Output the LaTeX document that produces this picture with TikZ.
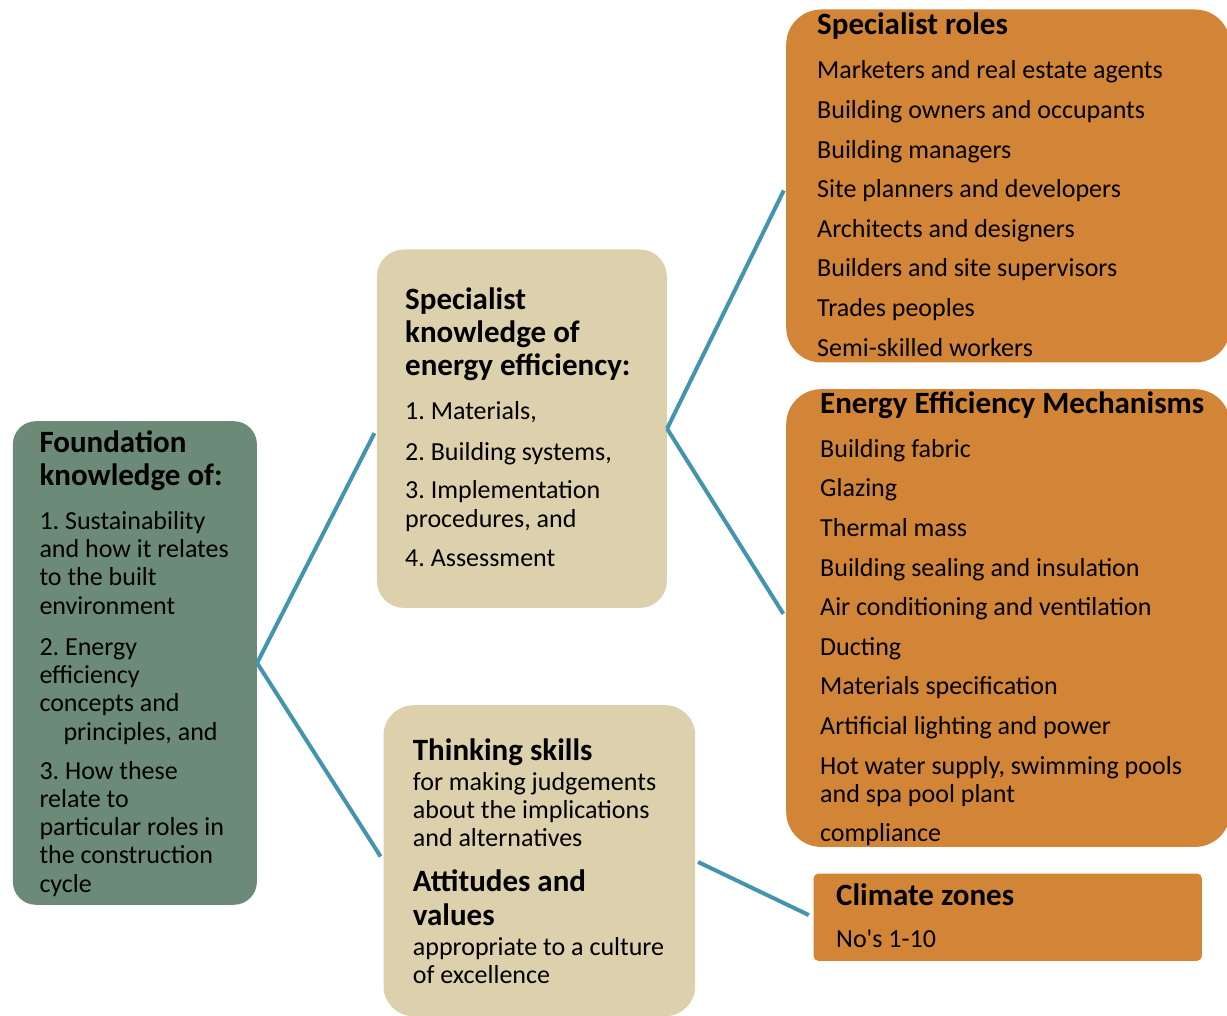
\documentclass[tikz,border=0pt]{standalone}
\usepackage{fontspec}
\setmainfont{Carlito}
\definecolor{fgreen}{HTML}{6B8A78}
\definecolor{ftan}{HTML}{DDD0AC}
\definecolor{forange}{HTML}{D38537}
\definecolor{fteal}{HTML}{4395AF}
\frenchspacing
\begin{document}
\begin{tikzpicture}[x=1pt,y=-1pt,
  panel/.style={inner sep=0pt, anchor=north west, draw=none},
  txt/.style={anchor=base west, inner sep=0pt, font=\fontsize{26}{28}\selectfont},
  ttl/.style={anchor=base west, inner sep=0pt, font=\fontsize{31}{33}\selectfont\bfseries},
  conn/.style={draw=fteal, line width=4pt, shorten >=5pt}]
\useasboundingbox (0,0) rectangle (1227,1016);

% panels
\node[panel, fill=fgreen, rounded corners=23pt, minimum width=244pt, minimum height=483.6pt] (found) at (12.7,421) {};
\node[panel, fill=ftan, rounded corners=27pt, minimum width=290pt, minimum height=358.4pt] (sk) at (376.7,249.3) {};
\node[panel, fill=ftan, rounded corners=30pt, minimum width=311.7pt, minimum height=311pt] (think) at (383.3,705) {};
\node[panel, fill=forange, rounded corners=35pt, minimum width=444pt, minimum height=353pt] (roles) at (786,9.3) {};
\node[panel, fill=forange, rounded corners=35pt, minimum width=444pt, minimum height=457.7pt] (eem) at (786,389) {};
\node[panel, fill=forange, rounded corners=5pt, minimum width=388.4pt, minimum height=87.4pt] (clim) at (813.3,873.3) {};

% connectors
\draw[conn] (found.east) -- (sk.west);
\draw[conn] (found.east) -- (think.west);
\draw[conn] (sk.east) -- (roles.west);
\draw[conn] (sk.east) -- (eem.west);
\draw[conn, shorten <=3pt] (think.east) -- (clim.west);

% foundation text
\node[ttl] (f0a) at (39.3,453) {Foundation};
\node[ttl] (f0b) at (39.3,485) {knowledge of:};
\node[txt] (f1) at (39.3,529.3) {1. Sustainability};
\node[txt] (f2) at (39.3,557.6) {and how it relates};
\node[txt] (f3) at (39.3,585.9) {to the built};
\node[txt] (f4) at (39.3,614.2) {environment};
\node[txt] (f5) at (39.3,655) {2. Energy};
\node[txt] (f6) at (39.3,683.3) {efficiency};
\node[txt] (f7) at (39.3,711.6) {concepts and};
\node[txt] (f8) at (63.3,740) {principles, and};
\node[txt] (f9) at (39.3,779) {3. How these};
\node[txt] (f10) at (39.3,807.3) {relate to};
\node[txt] (f11) at (39.3,835.6) {particular roles in};
\node[txt] (f12) at (39.3,863.9) {the construction};
\node[txt] (f13) at (39.3,892.2) {cycle};

% specialist knowledge text
\node[ttl] (s0a) at (405,309.3) {Specialist};
\node[ttl] (s0b) at (405,342.3) {knowledge of};
\node[ttl] (s0c) at (405,376) {energy efficiency:};
\node[txt] (s1) at (405,420) {1. Materials,};
\node[txt] (s2) at (405,460) {2. Building systems,};
\node[txt] (s3) at (405,498.6) {3. Implementation};
\node[txt] (s4) at (405,527.3) {procedures, and};
\node[txt] (s5) at (405,566.7) {4. Assessment};

% thinking text
\node[ttl] (t0) at (412.7,760.7) {Thinking skills};
\node[txt] (t1) at (412.7,790) {for making judgements};
\node[txt] (t2) at (412.7,818.3) {about the implications};
\node[txt] (t3) at (412.7,846.7) {and alternatives};
\node[ttl] (t4) at (412.7,891.7) {Attitudes and};
\node[ttl] (t5) at (412.7,925) {values};
\node[txt] (t6) at (412.7,955.7) {appropriate to a culture};
\node[txt] (t7) at (412.7,983.3) {of excellence};

% specialist roles text
\node[ttl] (r0) at (817,35) {Specialist roles};
\foreach \t [count=\i] in {Marketers and real estate agents,Building owners and occupants,Building managers,Site planners and developers,Architects and designers,Builders and site supervisors,Trades peoples,Semi-skilled workers}
  \node[txt] (r\i) at (817,{79+39.6*(\i-1)}) {\t};

% energy efficiency mechanisms text
\node[ttl] (e0) at (820,413.3) {Energy Efficiency Mechanisms};
\foreach \t [count=\i] in {Building fabric,Glazing,Thermal mass,Building sealing and insulation,Air conditioning and ventilation,Ducting,Materials specification,Artificial lighting and power,{Hot water supply, swimming pools}}
  \node[txt] (e\i) at (820,{457.3+39.6*(\i-1)}) {\t};
\node[txt] (e10) at (820,802) {and spa pool plant};
\node[txt] (e11) at (820,841.7) {compliance};

% climate zones text
\node[ttl] (c0) at (836,905) {Climate zones};
\node[txt] (c1) at (836,947.7) {No\textquotesingle s 1-10};
\end{tikzpicture}
\end{document}
